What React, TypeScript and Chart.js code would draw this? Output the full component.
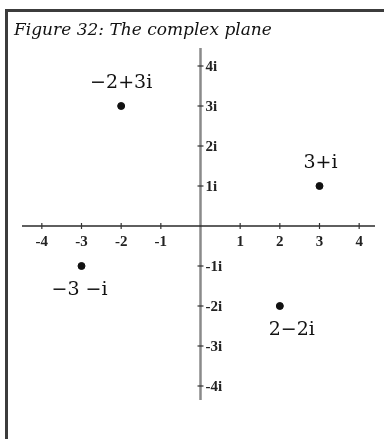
import React, { useEffect, useRef } from "react";
import { Chart, registerables } from "chart.js";

Chart.register(...registerables);

// Complex numbers plotted as (real, imaginary)
const realParts = [-2, 3, -3, 2];
const imagParts = [3, 1, -1, -2];
const pointNames = ["−2+3i", "3+i", "−3 −i", "2−2i"];

// Axis tick values and their labels
const realTicks = [-4, -3, -2, -1, 1, 2, 3, 4];
const realTickLabels = ["-4", "-3", "-2", "-1", "1", "2", "3", "4"];
const imagTicks = [4, 3, 2, 1, -1, -2, -3, -4];
const imagTickLabels = ["4i", "3i", "2i", "1i", "-1i", "-2i", "-3i", "-4i"];

const title = "Figure 32: The complex plane";

const planePlugin = {
  id: "complexPlane",
  beforeDraw(chart: any) {
    const { ctx, width, height } = chart;
    ctx.save();
    ctx.fillStyle = "#ffffff";
    ctx.fillRect(0, 0, width, height);
    // frame (top and left edges)
    ctx.fillStyle = "#3c3c3c";
    ctx.fillRect(5, 9, width - 5, 3);
    ctx.fillRect(5, 9, 3, height - 9);
    // title
    ctx.fillStyle = "#111";
    ctx.font = "italic 17px 'DejaVu Serif'";
    ctx.textAlign = "left";
    ctx.textBaseline = "alphabetic";
    ctx.fillText(title, 14, 35);

    const xs = chart.scales.x;
    const ys = chart.scales.y;
    const x0 = xs.getPixelForValue(0);
    const y0 = ys.getPixelForValue(0);

    // imaginary axis
    ctx.strokeStyle = "#8a8a8a";
    ctx.lineWidth = 2.5;
    ctx.beginPath();
    ctx.moveTo(x0, ys.getPixelForValue(4.45));
    ctx.lineTo(x0, ys.getPixelForValue(-4.35));
    ctx.stroke();

    // real axis
    ctx.strokeStyle = "#2a2a2a";
    ctx.lineWidth = 1.5;
    ctx.beginPath();
    ctx.moveTo(xs.getPixelForValue(-4.5), y0);
    ctx.lineTo(xs.getPixelForValue(4.4), y0);
    ctx.stroke();

    ctx.lineWidth = 1.2;
    ctx.strokeStyle = "#333";
    ctx.fillStyle = "#222";
    ctx.font = "bold 15px 'Liberation Serif'";
    ctx.textAlign = "center";
    ctx.textBaseline = "middle";
    realTicks.forEach((v, i) => {
      const px = xs.getPixelForValue(v);
      ctx.beginPath();
      ctx.moveTo(px, y0 - 3);
      ctx.lineTo(px, y0 + 3);
      ctx.stroke();
      ctx.fillText(realTickLabels[i], px, y0 + 16);
    });

    ctx.textAlign = "left";
    imagTicks.forEach((v, i) => {
      const py = ys.getPixelForValue(v);
      ctx.beginPath();
      ctx.moveTo(x0 - 3, py);
      ctx.lineTo(x0 + 3, py);
      ctx.stroke();
      ctx.fillText(imagTickLabels[i], x0 + 5, py + 1);
    });
    ctx.restore();
  },
  afterDatasetsDraw(chart: any) {
    const { ctx } = chart;
    const meta = chart.getDatasetMeta(0);
    const shiftX = [0, 1, -2, 12];
    ctx.save();
    ctx.fillStyle = "#111";
    ctx.font = "19px 'DejaVu Serif'";
    ctx.textAlign = "center";
    ctx.textBaseline = "middle";
    meta.data.forEach((el: any, i: number) => {
      const dy = imagParts[i] > 0 ? -23 : 24;
      ctx.fillText(pointNames[i], el.x + shiftX[i], el.y + dy);
    });
    ctx.restore();
  },
};

export default function App() {
  const ref = useRef<HTMLCanvasElement>(null);
  useEffect(() => {
    if (!ref.current) return;
    const chart = new Chart(ref.current, {
      type: "scatter",
      data: {
        datasets: [
          {
            data: realParts.map((re, i) => ({ x: re, y: imagParts[i] })),
            backgroundColor: "#111",
            borderColor: "#111",
            pointRadius: 3.5,
          },
        ],
      },
      options: {
        animation: false,
        responsive: false,
        layout: { padding: { left: 22, right: 2, top: 46, bottom: 33 } },
        plugins: { legend: { display: false }, tooltip: { enabled: false } },
        scales: {
          x: { type: "linear", min: -4.5, max: 4.5, display: false },
          y: { type: "linear", min: -4.5, max: 4.5, display: false },
        },
      },
      plugins: [planePlugin],
    });
    return () => chart.destroy();
  }, []);
  return (
    <div style={{ position: "absolute", left: 0, top: 0, width: 384, height: 439 }}>
      <canvas ref={ref} width={384} height={439} style={{ display: "block" }} />
    </div>
  );
}
